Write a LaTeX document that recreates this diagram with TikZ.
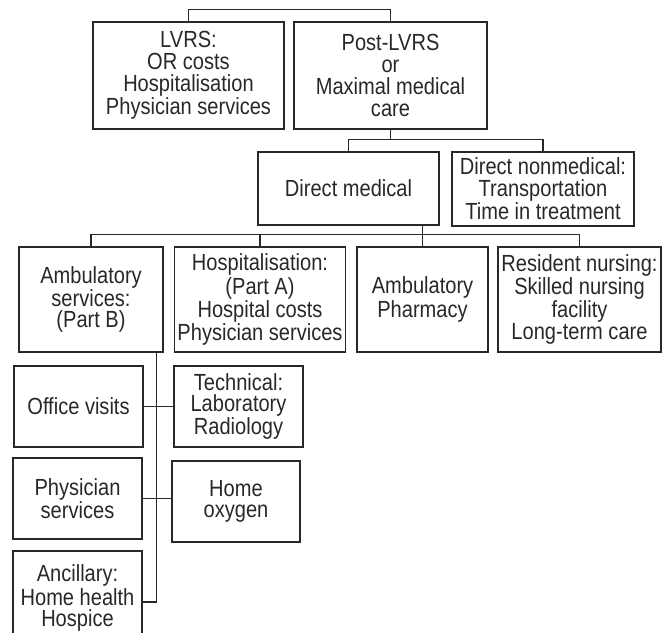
\documentclass[tikz,border=0pt]{standalone}
\usepackage{fontspec}
\setmainfont{Liberation Sans}[FakeStretch=0.86]
\usepackage{xcolor}
\definecolor{inkgray}{RGB}{40,40,40}

\tikzset{
	costbox/.style={draw=inkgray,line width=0.8pt,text=inkgray,align=center,inner sep=2pt,
		font=\fontsize{17.5pt}{16.3pt}\selectfont},
	link/.style={draw=inkgray,line width=0.8pt}
}

\begin{document}
\begin{tikzpicture}[x=0.75pt,y=-0.75pt]
	\useasboundingbox (0,0) rectangle (664,632);
	\clip (0,0) rectangle (664,632);

	% top level
	\node(lvrs) at (188.5,75.5)[costbox,minimum width=143.25pt,minimum height=80.25pt]{LVRS:\\OR costs\\Hospitalisation\\Physician services};
	\node(post) at (390.5,75.5)[costbox,minimum width=144.75pt,minimum height=80.25pt]{Post-LVRS\\or\\Maximal medical\\care};

	% second level
	\node(dmed) at (348.5,188.5)[costbox,minimum width=135.75pt,minimum height=54.75pt]{Direct medical};
	\node(nonmed) at (543,189)[costbox,minimum width=136.5pt,minimum height=55.5pt]{Direct nonmedical:\\Transportation\\Time in treatment};

	% third level
	\node(amb) at (91,299.5)[costbox,minimum width=108pt,minimum height=78.75pt]{Ambulatory\\services:\\(Part B)};
	\node(hosp) at (260,299.5)[costbox,minimum width=127.5pt,minimum height=78.75pt]{Hospitalisation:\\(Part A)\\Hospital costs\\Physician services};
	\node(pharm) at (422.5,299.5)[costbox,minimum width=98.25pt,minimum height=78.75pt]{Ambulatory\\Pharmacy};
	\node(res) at (579.5,299.5)[costbox,minimum width=122.25pt,minimum height=78.75pt]{Resident nursing:\\Skilled nursing\\facility\\Long-term care};

	% ambulatory items
	\node(office) at (78.5,406.5)[costbox,minimum width=96.75pt,minimum height=60.75pt]{Office visits};
	\node(tech) at (238.5,406.5)[costbox,minimum width=96.75pt,minimum height=60.75pt]{Technical:\\Laboratory\\Radiology};
	\node(phys) at (77.5,498.5)[costbox,minimum width=96.75pt,minimum height=60.75pt]{Physician\\services};
	\node(oxy) at (236,501.5)[costbox,minimum width=96pt,minimum height=60.75pt]{Home\\oxygen};
	\node(anc) at (77.5,598)[costbox,minimum width=96.75pt,minimum height=70.5pt,
		font=\fontsize{17.5pt}{15.8pt}\selectfont]{Ancillary:\\Home health\\Hospice};

	% connectors
	\draw[link] (lvrs.north) -- ++(0,-12) -| (post.north);
	\draw[link] (post.south) -- ++(0,9.5) coordinate (postknee);
	\draw[link] (dmed.north) |- (postknee) -| (nonmed.north);
	\draw[link] (pharm.north) -- (dmed.south -| pharm.north);
	\draw[link] (amb.north) -- ++(0,-12) coordinate (ambknee) -| (res.north);
	\draw[link] (hosp.north) -- (hosp.north |- ambknee);
	\coordinate (trunk) at ([xshift=-5.25pt]amb.south east);
	\draw[link] (trunk) |- ([yshift=-3pt]anc.east);
	\draw[link] (office.east) -- (tech.west);
	\draw[link] (phys.east) -- (phys.east -| oxy.west);
\end{tikzpicture}
\end{document}
